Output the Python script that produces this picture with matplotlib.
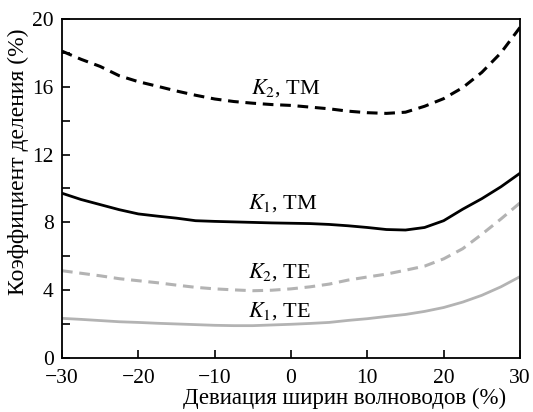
# -*- coding: utf-8 -*-
import numpy as np
import matplotlib
matplotlib.use('Agg')
import matplotlib.pyplot as plt

plt.rcParams['font.family'] = ['Liberation Serif', 'DejaVu Serif']
plt.rcParams['mathtext.fontset'] = 'stix'

# девиация ширин волноводов (%)
dev = [-30, -27.5, -25, -22.5, -20, -17.5, -15, -12.5, -10, -7.5, -5, -2.5, 0,
       2.5, 5, 7.5, 10, 12.5, 15, 17.5, 20, 22.5, 25, 27.5, 30]

# коэффициенты деления (%)
k2_tm = [18.1, 17.62, 17.2, 16.65, 16.3, 16.03, 15.75, 15.5, 15.28, 15.13, 15.03, 14.95, 14.9,
         14.8, 14.7, 14.56, 14.47, 14.43, 14.5, 14.85, 15.3, 15.95, 16.85, 18.0, 19.5]
k1_tm = [9.72, 9.35, 9.05, 8.75, 8.5, 8.37, 8.25, 8.1, 8.06, 8.03, 8.0, 7.97, 7.95,
         7.93, 7.88, 7.8, 7.7, 7.58, 7.55, 7.7, 8.1, 8.78, 9.4, 10.1, 10.9]
k2_te = [5.15, 5.0, 4.85, 4.68, 4.56, 4.44, 4.3, 4.17, 4.08, 4.02, 3.97, 4.0, 4.08,
         4.2, 4.36, 4.6, 4.78, 4.95, 5.18, 5.42, 5.85, 6.45, 7.3, 8.2, 9.15]
k1_te = [2.34, 2.28, 2.21, 2.14, 2.1, 2.05, 2.01, 1.97, 1.93, 1.91, 1.91, 1.95, 1.99,
         2.04, 2.1, 2.22, 2.32, 2.45, 2.57, 2.75, 2.98, 3.3, 3.7, 4.2, 4.8]

gray = '#b3b3b3'

fig = plt.figure(figsize=(5.33, 4.12), dpi=100)
ax = fig.add_axes([0.1163, 0.131, 0.8593, 0.823])

ax.plot(dev, k2_tm, color='black', lw=2.2, dashes=(3.5, 2.2))
ax.plot(dev, k1_tm, color='black', lw=2.0)
ax.plot(dev, k2_te, color=gray, lw=2.2, dashes=(3.5, 2.2))
ax.plot(dev, k1_te, color=gray, lw=2.0)

fs = 15.5
fl = 16
ax.text(-5.3, 15.9, r'$K_2$, TM', fontsize=fl, va='center', ha='left')
ax.text(-5.6, 9.15, r'$K_1$, TM', fontsize=fl, va='center', ha='left')
ax.text(-5.6, 5.1, r'$K_2$, TE', fontsize=fl, va='center', ha='left')
ax.text(-5.6, 2.8, r'$K_1$, TE', fontsize=fl, va='center', ha='left')

ax.set_xlim(-30, 30)
ax.set_ylim(0, 20)
ax.set_xticks([-30, -20, -10, 0, 10, 20, 30])
ax.set_xticklabels(['\u221230', '\u221220', '\u221210', '0', '10', '20', '30'])
ax.set_yticks([0, 4, 8, 12, 16, 20])
ax.set_yticks(np.arange(0, 21, 2), minor=True)
ax.tick_params(direction='in', labelsize=fs, length=6, width=1.2)
ax.tick_params(axis='x', pad=8)
ax.tick_params(axis='y', pad=6)
ax.tick_params(which='minor', direction='in', length=6, width=1.2)
for s in ax.spines.values():
    s.set_linewidth(1.3)

ax.set_xlabel('Девиация ширин волноводов (%)', fontsize=16.5)
ax.set_ylabel('Коэффициент деления (%)', fontsize=17)
ax.xaxis.set_label_coords(0.616, -0.088)
ax.yaxis.set_label_coords(-0.072, 0.578)

plt.savefig('out.png', dpi=100)
plt.close()
